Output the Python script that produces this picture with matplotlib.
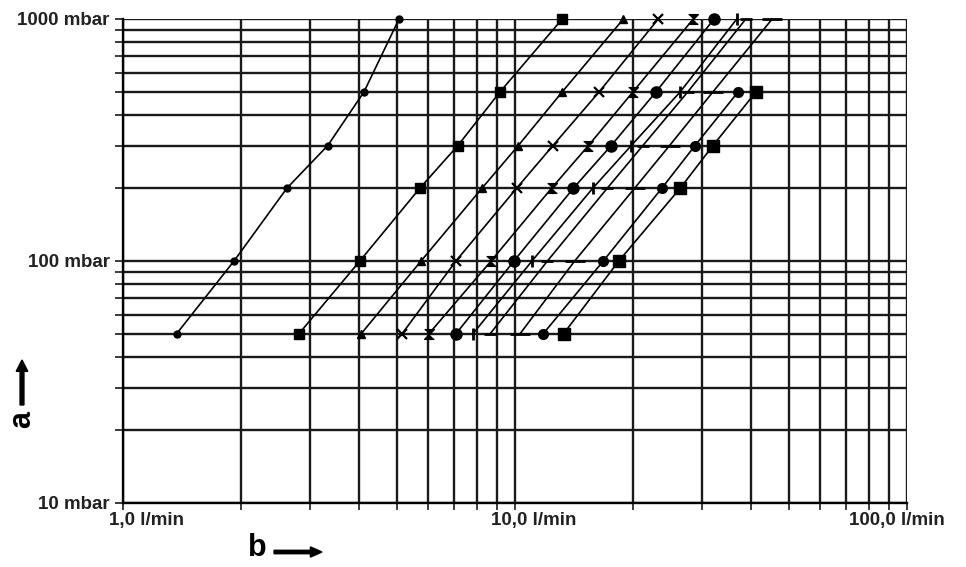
import matplotlib
matplotlib.use("Agg")
import matplotlib.pyplot as plt
from matplotlib.ticker import LogLocator, NullFormatter, FixedLocator, FixedFormatter
from matplotlib.transforms import offset_copy

plt.rcParams['font.family'] = ['Liberation Sans', 'DejaVu Sans']

# 压力等级 (mbar)
pressure = [50, 100, 200, 300, 500, 1000]

# 各曲线的流量 (l/min)
flow_a = [1.37, 1.92, 2.62, 3.33, 4.12, 5.06]
flow_b = [2.81, 4.02, 5.72, 7.15, 9.16, 13.2]
flow_c = [4.05, 5.76, 8.24, 10.2, 13.2, 18.9]
flow_d = [5.15, 7.07, 10.1, 12.5, 16.4, 23.2]
flow_e = [6.03, 8.69, 12.4, 15.4, 20.0, 28.5]
flow_f = [7.07, 9.94, 14.1, 17.6, 22.9, 32.2]
flow_g = [7.81, 11.05, 15.8, 19.8, 26.4, 36.8]
flow_h = [8.64, 12.1, 17.2, 21.2, 27.6, 38.8]
flow_i = [10.3, 14.2, 20.2, 24.8, 32.0, 45.3]
flow_j = [11.8, 16.8, 23.7, 28.8, 37.1]
flow_k = [13.3, 18.4, 26.4, 32.0, 41.2]

x_tick_values = [1, 10, 100]
x_tick_labels = ['1,0 l/min', '10,0 l/min', '100,0 l/min']
y_tick_values = [10, 100, 1000]
y_tick_labels = ['10 mbar', '100 mbar', '1000 mbar']

hourglass = [(-1, 1), (1, 1), (-1, -1), (1, -1)]

series = [
    (flow_a, dict(marker='o', ms=5)),
    (flow_b, dict(marker='s', ms=7)),
    (flow_c, dict(marker='^', ms=6)),
    (flow_d, dict(marker='x', ms=7, mew=1.6)),
    (flow_e, dict(marker=hourglass, ms=7)),
    (flow_f, dict(marker='o', ms=8)),
    (flow_g, dict(marker='|', ms=8, mew=2)),
    (flow_h, dict(marker='_', ms=9, mew=2)),
    (flow_i, dict(marker='_', ms=14, mew=2)),
    (flow_j, dict(marker='o', ms=7)),
    (flow_k, dict(marker='s', ms=8)),
]

fig = plt.figure(figsize=(9.66, 5.67), dpi=100)
ax = fig.add_axes([0.1273, 0.1129, 0.8116, 0.8536])
ax.set_xscale('log')
ax.set_yscale('log')
ax.set_xlim(1, 100)
ax.set_ylim(10, 1000)

# 网格线
ax.xaxis.set_major_locator(FixedLocator(x_tick_values))
ax.xaxis.set_minor_locator(LogLocator(base=10, subs=range(2, 10)))
ax.yaxis.set_major_locator(FixedLocator(y_tick_values))
ax.yaxis.set_minor_locator(LogLocator(base=10, subs=range(2, 10)))
ax.grid(True, which='both', color='#1a1a1a', linewidth=1.7)
ax.set_axisbelow(True)

for flow, style in series:
    ax.plot(flow, pressure[:len(flow)], color='black', linewidth=1.2,
            mfc='black', mec='black', clip_on=False, zorder=3, **style)

# 坐标轴样式
for side in ['top', 'right']:
    ax.spines[side].set_visible(False)
for side in ['left', 'bottom']:
    ax.spines[side].set_linewidth(1.7)
ax.tick_params(which='both', direction='out', length=6, width=1.2, color='#1a1a1a')
ax.tick_params(axis='x', which='both', length=5, labelbottom=False)
ax.yaxis.set_major_formatter(FixedFormatter(y_tick_labels))
ax.yaxis.set_minor_formatter(NullFormatter())
ax.xaxis.set_minor_formatter(NullFormatter())
for lab in ax.get_yticklabels():
    lab.set_fontsize(13.5)
    lab.set_fontweight('bold')
    lab.set_color('#222222')

# x轴标签，各自的水平偏移（像素）
x_label_shift = [24, 19, -10]
for v, t, dx in zip(x_tick_values, x_tick_labels, x_label_shift):
    trans = offset_copy(ax.get_xaxis_transform(), fig=fig, x=dx, y=-18, units='dots')
    ax.text(v, 0, t, transform=trans, ha='center', va='center',
            fontsize=13.5, fontweight='bold', color='#222222')

# 轴名称与箭头
fig.text(22 / 966, 1 - 420 / 567, 'a', rotation=90, ha='center', va='center',
         fontsize=22, fontweight='bold')
fig.add_artist(matplotlib.patches.FancyArrow(
    22 / 966, 1 - 405 / 567, 0, 45 / 567, width=0.004, head_width=0.012,
    head_length=0.02, length_includes_head=True, color='black',
    transform=fig.transFigure))
fig.text(257 / 966, 1 - 548 / 567, 'b', ha='center', va='center',
         fontsize=22, fontweight='bold')
fig.add_artist(matplotlib.patches.FancyArrow(
    274 / 966, 1 - 552 / 567, 48 / 966, 0, width=0.006, head_width=0.018,
    head_length=0.012, length_includes_head=True, color='black',
    transform=fig.transFigure))

plt.savefig('out.png', dpi=100)
